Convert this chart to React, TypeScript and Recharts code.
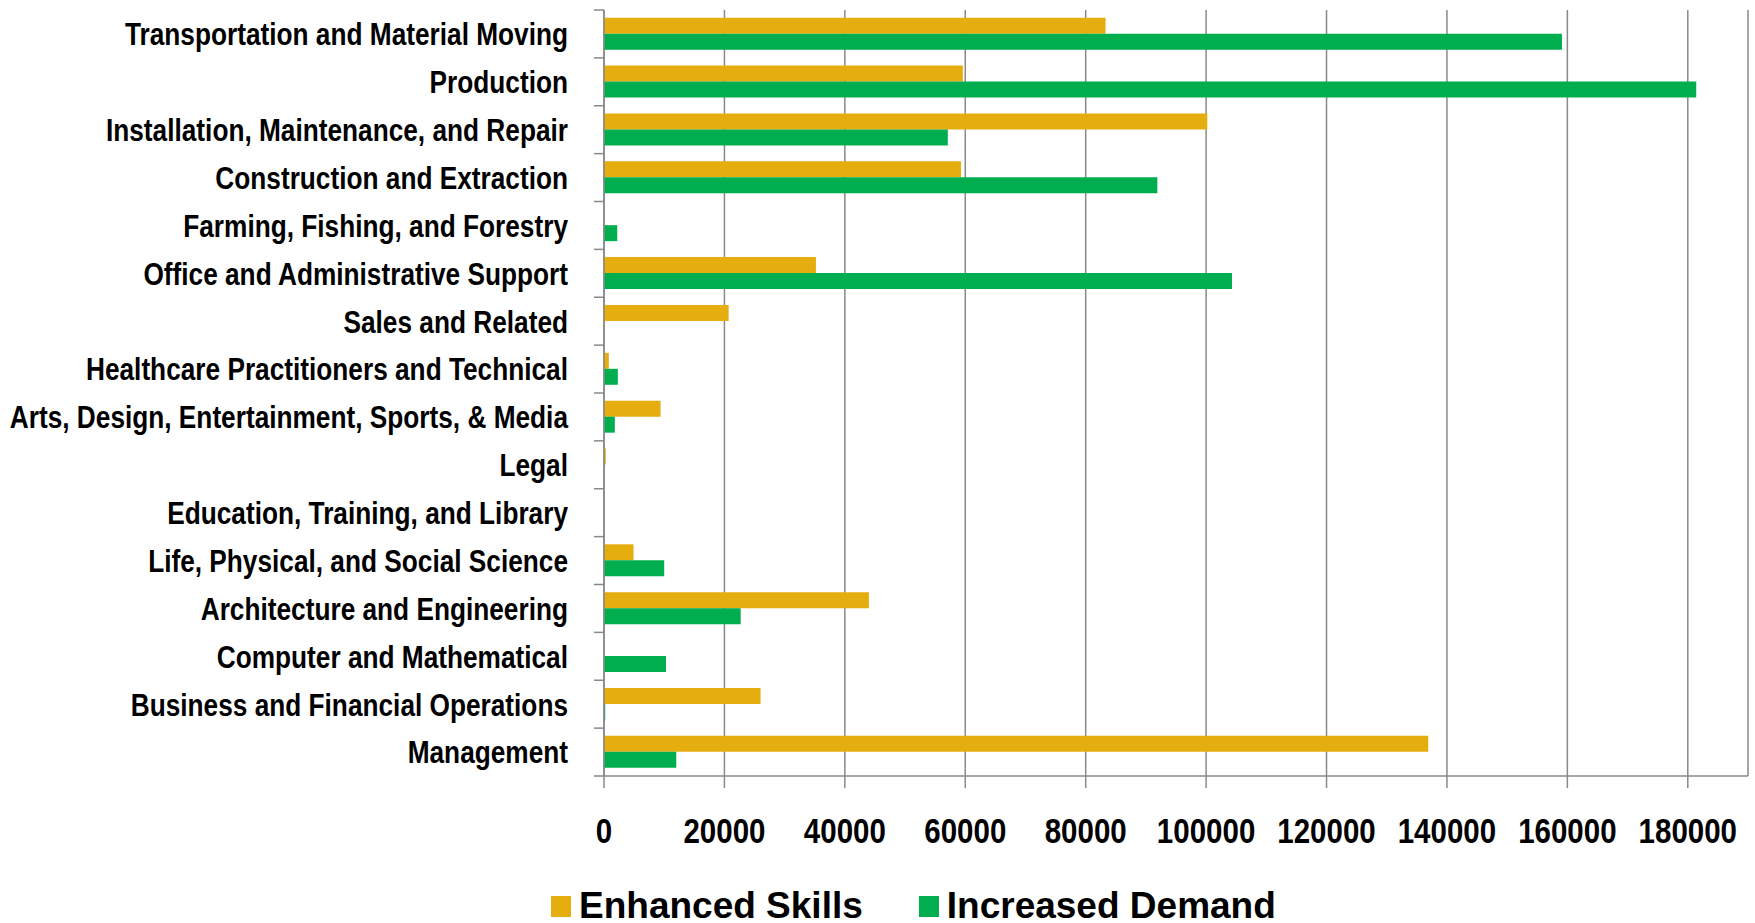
import { BarChart, Bar, XAxis, YAxis, CartesianGrid, Legend } from 'recharts';

const occupations = [
  'Transportation and Material Moving',
  'Production',
  'Installation, Maintenance, and Repair',
  'Construction and Extraction',
  'Farming, Fishing, and Forestry',
  'Office and Administrative Support',
  'Sales and Related',
  'Healthcare Practitioners and Technical',
  'Arts, Design, Entertainment, Sports, & Media',
  'Legal',
  'Education, Training, and Library',
  'Life, Physical, and Social Science',
  'Architecture and Engineering',
  'Computer and Mathematical',
  'Business and Financial Operations',
  'Management',
];

const enhancedSkills = [83300, 59600, 100200, 59300, 0, 35200, 20700, 800, 9400, 300, 0, 4900, 44000, 0, 26000, 136900];
const increasedDemand = [159100, 181400, 57100, 91900, 2200, 104300, 0, 2300, 1800, 0, 0, 10000, 22700, 10300, 200, 12000];

const xTicks = [0, 20000, 40000, 60000, 80000, 100000, 120000, 140000, 160000, 180000];

const data = occupations.map((name, i) => ({
  name,
  enhanced: enhancedSkills[i],
  demand: increasedDemand[i],
}));

const ORANGE = '#E6AD0F';
const GREEN = '#00AE4F';
const GRAY = '#898989';
// no Arial Narrow here: squeeze Liberation Sans Bold instead
const FONT = '"Liberation Sans", Arial, sans-serif';
const SQUEEZE = 0.82;
const LABEL_GAP = 36;

// category label plus the tick marks on the band edges (Excel style)
const CategoryTick = (props: any) => {
  const { x, y, payload, index, visibleTicksCount } = props;
  const half = payload.offset || 0;
  const axisX = x + LABEL_GAP;
  const isLast = index === visibleTicksCount - 1;
  return (
    <g>
      <line x1={axisX - 10} x2={axisX} y1={y - half} y2={y - half} stroke={GRAY} strokeWidth={1.5} />
      {isLast && <line x1={axisX - 10} x2={axisX} y1={y + half} y2={y + half} stroke={GRAY} strokeWidth={1.5} />}
      <text
        transform={`translate(${x},${y}) scale(${SQUEEZE},1)`}
        textAnchor="end"
        dy="0.355em"
        fill="#000"
        fontSize={32}
        fontWeight="bold"
        fontFamily={FONT}
      >
        {payload.value}
      </text>
    </g>
  );
};

const ValueTick = (props: any) => {
  const { x, y, payload } = props;
  return (
    <text
      transform={`translate(${x},${y}) scale(${SQUEEZE},1)`}
      textAnchor="middle"
      dy="0.71em"
      fill="#000"
      fontSize={36}
      fontWeight="bold"
      fontFamily={FONT}
    >
      {payload.value}
    </text>
  );
};

const renderLegend = ({ payload }: any) => (
  <div style={{ display: 'flex', alignItems: 'center', height: 34, paddingLeft: 551 }}>
    {(payload || []).map((p: any) => (
      <div key={p.value} style={{ display: 'flex', alignItems: 'center', marginRight: 56 }}>
        <span style={{ display: 'inline-block', width: 20, height: 21, background: p.color, marginRight: 8 }} />
        <span style={{ font: `bold 37px ${FONT}`, color: '#000', lineHeight: '34px' }}>{p.value}</span>
      </div>
    ))}
  </div>
);

export default function App() {
  return (
    <div style={{ position: 'absolute', left: 0, top: 0, background: '#fff' }}>
      <BarChart
        width={1755}
        height={923}
        data={data}
        layout="vertical"
        margin={{ top: 10, right: 7, left: 0, bottom: 0 }}
        barCategoryGap="16%"
        barGap={0}
      >
        <CartesianGrid horizontal={false} stroke={GRAY} strokeWidth={1.5} />
        <YAxis
          type="category"
          dataKey="name"
          width={604}
          interval={0}
          tickLine={false}
          tickSize={0}
          tickMargin={LABEL_GAP}
          axisLine={{ stroke: GRAY, strokeWidth: 1.5 }}
          tick={<CategoryTick />}
        />
        <XAxis
          type="number"
          domain={[0, 190000]}
          ticks={xTicks}
          interval={0}
          height={113}
          tickSize={12}
          tickMargin={29}
          axisLine={{ stroke: GRAY, strokeWidth: 1.5 }}
          tickLine={{ stroke: GRAY, strokeWidth: 1.5 }}
          tick={<ValueTick />}
        />
        <Legend verticalAlign="bottom" content={renderLegend} wrapperStyle={{ left: 0, bottom: 0 }} />
        <Bar dataKey="enhanced" name="Enhanced Skills" fill={ORANGE} isAnimationActive={false} />
        <Bar dataKey="demand" name="Increased Demand" fill={GREEN} isAnimationActive={false} />
      </BarChart>
    </div>
  );
}
